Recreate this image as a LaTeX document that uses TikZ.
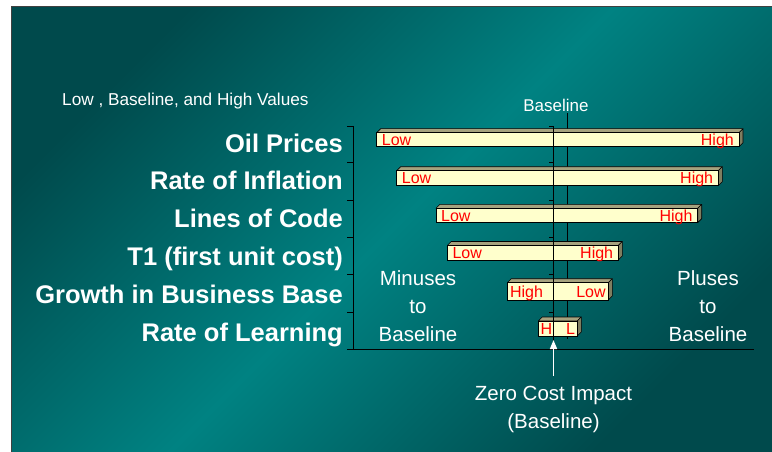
\documentclass[tikz,border=0pt]{standalone}
\usepackage{fontspec}
\setmainfont{Liberation Sans}
\usepackage{tikz}
\usetikzlibrary{arrows.meta}
\definecolor{DarkTeal}{RGB}{0,74,76}
\definecolor{Teal}{RGB}{0,130,130}
\definecolor{BarFront}{RGB}{255,255,204}
\definecolor{BarTop}{RGB}{166,162,126}
\definecolor{BarSide}{RGB}{128,126,96}
\newcommand\fsz[2]{\fontsize{#1}{#2}\selectfont}
\newcommand\costbar[8][]{%
  \filldraw[bartop] (#3,#5) -- ++(4,-4) -- (#4+4,#5-4) -- (#4,#5) -- cycle;
  \filldraw[barside] (#4,#5) -- ++(4,-4) -- (#4+4,#6-4) -- (#4,#6) -- cycle;
  \filldraw[barfront] (#3,#5) rectangle (#4,#6);
  \coordinate (#2w) at (#3,{(#5+#6)/2});
  \coordinate (#2e) at (#4,{(#5+#6)/2});
  \node[barlabel, #1, anchor=west] (#2low) at (#2w) {#7};
  \node[barlabel, #1, anchor=east] (#2high) at (#2e) {#8};
}

\begin{document}
\begin{tikzpicture}[x=1pt, y=-1pt,
  bartop/.style={fill=BarTop, draw=black, line width=0.6pt, line join=round},
  barside/.style={fill=BarSide, draw=black, line width=0.6pt, line join=round},
  barfront/.style={fill=BarFront, draw=black, line width=0.7pt},
  barlabel/.style={text=red, font=\fsz{16}{16}, inner xsep=5pt, inner ysep=0pt, text height=11.5pt, text depth=0pt},
  rowlabel/.style={anchor=east, text=white, font=\fsz{25.5}{25.5}\bfseries, inner sep=0pt, text height=18.3pt, text depth=0pt},
  headtext/.style={text=white, inner sep=0pt, text height=12.2pt, text depth=0pt},
  sidetext/.style={text=white, font=\fsz{20.5}{28}, align=center, inner sep=0pt},
  axis/.style={black, line width=0.8pt},
  pointer/.style={white, line width=1.6pt, -{Triangle[width=7pt,length=9pt]}}]
\path[use as bounding box] (0,0) rectangle (772,452);
\fill[white] (0,0) rectangle (772,452);
\shade[top color=DarkTeal, bottom color=DarkTeal, middle color=Teal, shading angle=45] (11,7) rectangle (772,452);
\draw[black!75, line width=1pt] (11,452) -- (11,7) -- (772,7);

\coordinate (axtop) at (353,126);
\coordinate (axorigin) at (353,349);
\coordinate (axleft) at (347,349);
\coordinate (axend) at (754,349);
\coordinate (basetop) at (567,113);
\coordinate (basebot) at (567,339);
\coordinate (zerotop) at (553.5,126);
\coordinate (zerobot) at (553.5,349);
\coordinate (zerotip) at (553.5,340);

\draw[axis] (basetop) -- (basebot);

\costbar{oilbar}{376.7}{739}{132.7}{146.7}{Low}{High}
\costbar{inflbar}{396.7}{718.3}{170.7}{185.7}{Low}{High}
\costbar{locbar}{436}{697.7}{208.3}{222.7}{Low}{High}
\costbar{tonebar}{447.3}{618.3}{245.5}{260}{Low}{High}
\costbar[inner xsep=2.5pt]{growthbar}{507.3}{608.3}{282.7}{300}{High}{Low}
\costbar[inner xsep=2pt]{learnbar}{538.3}{577.3}{321}{336}{H}{L}

\draw[axis] (axtop) -- (axorigin);
\draw[axis] (axleft) -- (axend);
\draw[axis] (zerotop) -- (zerobot);
\foreach \ty in {126,162,200,237,274.5,312} {
  \draw[axis] (347,\ty) -- (353,\ty);
  \draw[axis] (549,\ty) -- (553.5,\ty);
}

\node[headtext, anchor=west, font=\fsz{17.2}{17.2}] (title) at (62,99.7) {Low , Baseline, and High Values};
\node[headtext, font=\fsz{17}{17}] (baselinetext) at (556,105) {Baseline};

\node[rowlabel] (oil) at (343,143) {Oil Prices};
\node[rowlabel] (infl) at (343,180.5) {Rate of Inflation};
\node[rowlabel] (loc) at (343,218) {Lines of Code};
\node[rowlabel] (tone) at (343,256) {T1 (first unit cost)};
\node[rowlabel] (growth) at (343,294.5) {Growth in Business Base};
\node[rowlabel] (learn) at (343,332) {Rate of Learning};

\node[sidetext, anchor=north] (minus) at (418,270) {Minuses\\to\\Baseline};
\node[sidetext, anchor=north] (plus) at (708,270) {Pluses\\to\\Baseline};
\node[sidetext, anchor=north, inner ysep=10pt] (zero) at (553.5,376) {Zero Cost Impact\\(Baseline)};
\draw[pointer] (zero.north) -- (zerotip);
\end{tikzpicture}
\end{document}
